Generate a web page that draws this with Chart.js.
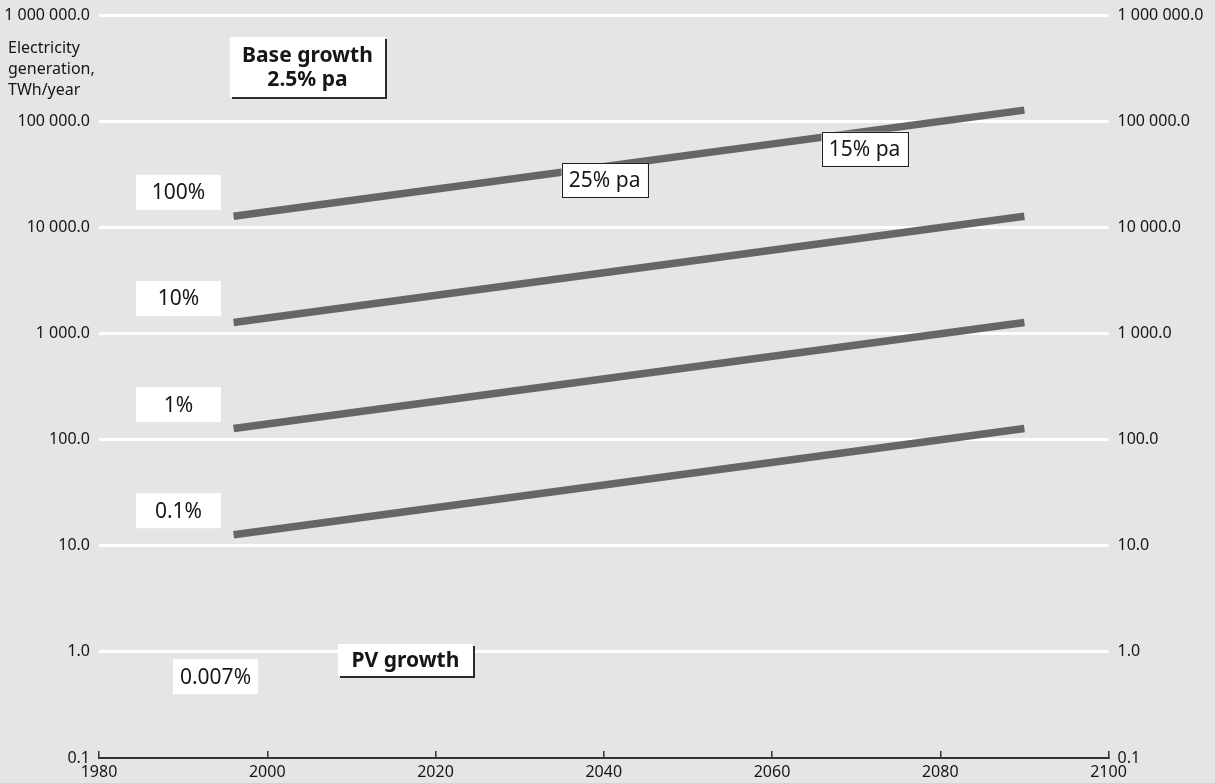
<!DOCTYPE html>
<html>
<head>
<meta charset="utf-8">
<title>Electricity generation and PV growth</title>
<script src="https://cdn.jsdelivr.net/npm/chart.js@4.4.1/dist/chart.umd.min.js"></script>
<style>
  html, body { margin: 0; padding: 0; background: #e5e5e5; }
  canvas { display: block; }
</style>
</head>
<body>
<canvas id="chart" width="1215" height="783"></canvas>
<script>
// Years at which each share-of-generation line starts and ends
const years = [1996, 2090];

// Electricity generation (TWh/year) growing at the 2.5% pa base rate,
// shown for four shares of total generation
const share100 = [12700, 127000];
const share10 = [1270, 12700];
const share1 = [127, 1270];
const share01 = [12.7, 127];

const seriesNames = ['100%', '10%', '1%', '0.1%'];
const seriesValues = [share100, share10, share1, share01];

// Logarithmic axis ticks (TWh/year)
const yTicks = [0.1, 1, 10, 100, 1000, 10000, 100000, 1000000];
// Year axis ticks
const xTicks = [1980, 2000, 2020, 2040, 2060, 2080, 2100];

// Share labels on the left, placed at (year, TWh/year)
const shareLabels = [
  { text: '100%',   year: 1989.45, value: Math.pow(10, 4.33) },
  { text: '10%',    year: 1989.45, value: Math.pow(10, 3.33) },
  { text: '1%',     year: 1989.45, value: Math.pow(10, 2.33) },
  { text: '0.1%',   year: 1989.45, value: Math.pow(10, 1.33) },
  { text: '0.007%', year: 1993.85, value: Math.pow(10, -0.234) }
];
// PV growth-rate labels along the top line
const rateLabels = [
  { text: '25% pa', year: 2040.1, value: Math.pow(10, 4.446) },
  { text: '15% pa', year: 2071.0, value: Math.pow(10, 4.740) }
];
// Headline boxes
const headBoxes = [
  { lines: ['Base growth', '2.5% pa'], year: 2004.78, value: Math.pow(10, 5.51), w: 155, h: 60 },
  { lines: ['PV growth'], year: 2016.43, value: Math.pow(10, -0.074), w: 135, h: 32 }
];
const axisTitle = ['Electricity', 'generation,', 'TWh/year'];

const FONT = "'Noto Sans', 'Open Sans', sans-serif";
const TEXT = '#161616';
const LINE = '#666666';

function fmtTick(v) {
  if (v < 1) return String(v);
  return Math.round(v).toString().replace(/\B(?=(\d{3})+(?!\d))/g, ' ') + '.0';
}

const datasets = seriesNames.map((name, i) => ({
  label: name,
  data: years.map((yr, j) => ({ x: yr, y: seriesValues[i][j] })),
  borderColor: LINE,
  borderWidth: 7.5,
  borderCapStyle: 'butt',
  pointRadius: 0,
  tension: 0,
  fill: false,
  yAxisID: 'y'
}));

const annotationPlugin = {
  id: 'annotations',
  afterDatasetsDraw(chart) {
    const ctx = chart.ctx;
    const xs = chart.scales.x, ys = chart.scales.y;
    ctx.save();
    ctx.textAlign = 'center';
    ctx.textBaseline = 'middle';

    // share boxes: plain white
    ctx.font = '21px ' + FONT;
    shareLabels.forEach(l => {
      const cx = xs.getPixelForValue(l.year), cy = ys.getPixelForValue(l.value);
      const w = 85, h = 35;
      ctx.fillStyle = '#ffffff';
      ctx.fillRect(cx - w / 2, cy - h / 2, w, h);
      ctx.fillStyle = TEXT;
      ctx.fillText(l.text, cx, cy + 1);
    });

    // rate boxes: white with thin dark frame
    rateLabels.forEach(l => {
      const cx = xs.getPixelForValue(l.year), cy = ys.getPixelForValue(l.value);
      const w = 86, h = 34;
      ctx.fillStyle = '#ffffff';
      ctx.fillRect(cx - w / 2, cy - h / 2, w, h);
      ctx.strokeStyle = '#222';
      ctx.lineWidth = 1;
      ctx.strokeRect(Math.round(cx - w / 2) + 0.5, Math.round(cy - h / 2) + 0.5, w, h);
      ctx.fillStyle = TEXT;
      ctx.fillText(l.text, cx, cy + 1);
    });

    // headline boxes: white with a dark shadow edge on right and bottom
    ctx.font = 'bold 21px ' + FONT;
    headBoxes.forEach(b => {
      const cx = xs.getPixelForValue(b.year), cy = ys.getPixelForValue(b.value);
      const x0 = Math.round(cx - b.w / 2), y0 = Math.round(cy - b.h / 2);
      ctx.fillStyle = '#2a2a2a';
      ctx.fillRect(x0 + 2, y0 + 2, b.w, b.h);
      ctx.fillStyle = '#ffffff';
      ctx.fillRect(x0, y0, b.w, b.h);
      ctx.fillStyle = TEXT;
      const lh = 24;
      const top = cy - (b.lines.length - 1) * lh / 2;
      b.lines.forEach((t, k) => ctx.fillText(t, cx, top + k * lh + 1));
    });

    // axis title, top left
    ctx.font = '16px ' + FONT;
    ctx.textAlign = 'left';
    axisTitle.forEach((t, k) => ctx.fillText(t, 8, 48 + k * 21));
    ctx.restore();
  }
};

const logAxis = (position, width, showGrid) => ({
  type: 'logarithmic',
  position: position,
  min: 0.1,
  max: 1000000,
  afterBuildTicks: s => { s.ticks = yTicks.map(v => ({ value: v })); },
  afterFit: s => { s.width = width; s.paddingTop = 0; s.paddingBottom = 0; },
  ticks: {
    callback: v => fmtTick(v),
    font: { family: FONT, size: 16 },
    color: TEXT,
    padding: 9,
    autoSkip: false
  },
  grid: {
    display: showGrid,
    drawTicks: false,
    lineWidth: 3,
    color: c => (c.tick && c.tick.value === 0.1) ? 'rgba(0,0,0,0)' : '#ffffff'
  },
  border: { display: false }
});

new Chart(document.getElementById('chart'), {
  type: 'line',
  data: { datasets },
  options: {
    responsive: false,
    animation: false,
    devicePixelRatio: 1,
    layout: { padding: { top: 15, left: 0, right: 0, bottom: 0 } },
    plugins: { legend: { display: false }, tooltip: { enabled: false } },
    scales: {
      x: {
        type: 'linear',
        position: 'bottom',
        min: 1980,
        max: 2100,
        afterBuildTicks: s => { s.ticks = xTicks.map(v => ({ value: v })); },
        afterFit: s => { s.height = 25; },
        ticks: {
          callback: v => String(v),
          font: { family: FONT, size: 16 },
          color: TEXT,
          padding: 12,
          maxRotation: 0,
          autoSkip: false
        },
        grid: {
          drawOnChartArea: false,
          drawTicks: true,
          tickLength: -7,
          lineWidth: 1.5,
          color: '#333333'
        },
        border: { display: true, color: '#333333', width: 2 }
      },
      y: logAxis('left', 99, true),
      y2: logAxis('right', 106.5, false)
    }
  },
  plugins: [annotationPlugin]
});
</script>
</body>
</html>
